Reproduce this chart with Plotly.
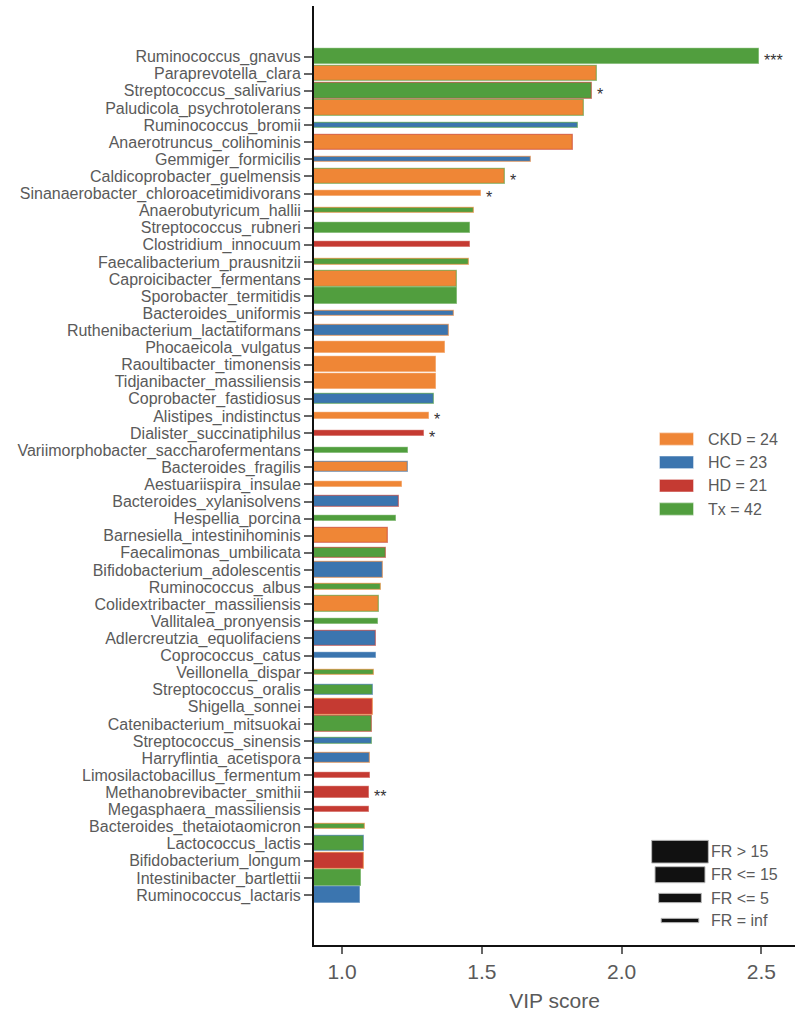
import plotly.graph_objects as go

species = [
    "Ruminococcus_gnavus", "Paraprevotella_clara", "Streptococcus_salivarius",
    "Paludicola_psychrotolerans", "Ruminococcus_bromii", "Anaerotruncus_colihominis",
    "Gemmiger_formicilis", "Caldicoprobacter_guelmensis",
    "Sinanaerobacter_chloroacetimidivorans", "Anaerobutyricum_hallii",
    "Streptococcus_rubneri", "Clostridium_innocuum", "Faecalibacterium_prausnitzii",
    "Caproicibacter_fermentans", "Sporobacter_termitidis", "Bacteroides_uniformis",
    "Ruthenibacterium_lactatiformans", "Phocaeicola_vulgatus", "Raoultibacter_timonensis",
    "Tidjanibacter_massiliensis", "Coprobacter_fastidiosus", "Alistipes_indistinctus",
    "Dialister_succinatiphilus", "Variimorphobacter_saccharofermentans",
    "Bacteroides_fragilis", "Aestuariispira_insulae", "Bacteroides_xylanisolvens",
    "Hespellia_porcina", "Barnesiella_intestinihominis", "Faecalimonas_umbilicata",
    "Bifidobacterium_adolescentis", "Ruminococcus_albus", "Colidextribacter_massiliensis",
    "Vallitalea_pronyensis", "Adlercreutzia_equolifaciens", "Coprococcus_catus",
    "Veillonella_dispar", "Streptococcus_oralis", "Shigella_sonnei",
    "Catenibacterium_mitsuokai", "Streptococcus_sinensis", "Harryflintia_acetispora",
    "Limosilactobacillus_fermentum", "Methanobrevibacter_smithii",
    "Megasphaera_massiliensis", "Bacteroides_thetaiotaomicron", "Lactococcus_lactis",
    "Bifidobacterium_longum", "Intestinibacter_bartlettii", "Ruminococcus_lactaris",
]

vip_score = [
    2.491, 1.911, 1.895, 1.865, 1.845, 1.825, 1.675, 1.584, 1.496, 1.471,
    1.459, 1.459, 1.456, 1.410, 1.410, 1.399, 1.381, 1.367, 1.338, 1.336,
    1.329, 1.312, 1.293, 1.237, 1.236, 1.213, 1.203, 1.193, 1.163, 1.156,
    1.146, 1.138, 1.131, 1.130, 1.122, 1.122, 1.115, 1.112, 1.111, 1.109,
    1.106, 1.102, 1.101, 1.097, 1.096, 1.081, 1.080, 1.078, 1.068, 1.064,
]

# group with highest abundance (fill) and second group (edge)
fill_group = [
    "Tx", "CKD", "Tx", "CKD", "HC", "CKD", "HC", "CKD", "CKD", "Tx",
    "Tx", "HD", "Tx", "CKD", "Tx", "HC", "HC", "CKD", "CKD", "CKD",
    "HC", "CKD", "HD", "Tx", "CKD", "CKD", "HC", "Tx", "CKD", "Tx",
    "HC", "Tx", "CKD", "Tx", "HC", "HC", "Tx", "Tx", "HD", "Tx",
    "HC", "HC", "HD", "HD", "HD", "Tx", "Tx", "HD", "Tx", "HC",
]
edge_group = [
    "Tx", "Tx", "HD", "Tx", "Tx", "HD", "CKD", "Tx", "CKD", "CKD",
    "Tx", "HD", "CKD", "Tx", "Tx", "CKD", "CKD", "CKD", "CKD", "CKD",
    "Tx", "CKD", "HD", "Tx", "HC", "CKD", "HD", "Tx", "HD", "HD",
    "CKD", "CKD", "Tx", "Tx", "HD", "HC", "CKD", "HC", "CKD", "HD",
    "Tx", "CKD", "HD", "HD", "HD", "CKD", "HC", "CKD", "Tx", "HC",
]
fr_class = [
    ">15", ">15", ">15", ">15", "<=5", ">15", "<=5", ">15", "<=5", "<=5",
    "<=15", "<=5", "<=5", ">15", ">15", "<=5", "<=15", "<=15", ">15", ">15",
    "<=15", "<=5", "<=5", "<=5", "<=15", "<=5", "<=15", "<=5", ">15", "<=15",
    ">15", "<=5", ">15", "<=5", ">15", "<=5", "<=5", "<=15", ">15", ">15",
    "<=5", "<=15", "<=5", "<=15", "<=5", "<=5", ">15", ">15", ">15", ">15",
]
significance = [
    "***", "", "*", "", "", "", "", "*", "*", "",
    "", "", "", "", "", "", "", "", "", "",
    "", "*", "*", "", "", "", "", "", "", "",
    "", "", "", "", "", "", "", "", "", "",
    "", "", "", "**", "", "", "", "", "", "",
]

group_labels = ["CKD = 24", "HC = 23", "HD = 21", "Tx = 42"]
group_keys = ["CKD", "HC", "HD", "Tx"]
fr_labels = ["FR > 15", "FR <= 15", "FR <= 5", "FR = inf"]

# ---- styles ----
COL = {"CKD": (239, 134, 54), "HC": (59, 117, 175), "HD": (197, 58, 50), "Tx": (81, 158, 62)}
WIDTH = {">15": 0.9, "<=15": 0.6, "<=5": 0.3, "inf": 0.1}
FONT = "Liberation Sans, Arial, sans-serif"
TXT = "#5a5a5a"


def solid(g):
    r, gg, b = COL[g]
    return f"rgb({r},{gg},{b})"


def light(g, a=0.55):
    r, gg, b = COL[g]
    return f"rgba({r},{gg},{b},{a})"


ypos = list(range(len(species)))

fig = go.Figure()
fig.add_trace(go.Bar(
    x=vip_score, y=ypos, orientation="h",
    width=[WIDTH[f] for f in fr_class],
    marker=dict(color=[solid(g) for g in fill_group],
                line=dict(color=[light(g) for g in edge_group], width=1.3)),
    showlegend=False, hoverinfo="x+text", text=species, textposition="none",
))

annotations = []
for yi, (v, s) in enumerate(zip(vip_score, significance)):
    if s:
        annotations.append(dict(x=v, y=yi, xref="x", yref="y", text=s, showarrow=False,
                                xanchor="left", yanchor="middle", xshift=3, yshift=-4,
                                font=dict(family=FONT, size=16, color="#333333")))

# pixel helpers for legend placement
L, R, T, B = 314, 795, 6, 945


def px(xp):
    return (xp - L) / (R - L)


def py(yp):
    return (B - yp) / (B - T)


shapes = []
# group legend
grp_rows = [439, 462.3, 485.7, 509]
for key, lab, yc in zip(group_keys, group_labels, grp_rows):
    shapes.append(dict(type="rect", xref="paper", yref="paper",
                       x0=px(660), x1=px(693), y0=py(yc + 5.8), y1=py(yc - 5.8),
                       fillcolor=solid(key), line=dict(color=light(key, 0.5), width=1.2)))
    annotations.append(dict(x=px(706), y=py(yc), xref="paper", yref="paper", text=lab,
                            showarrow=False, xanchor="left", yanchor="middle",
                            font=dict(family=FONT, size=16, color=TXT)))

# FR legend
fr_rows = [851.7, 874.7, 898, 920.5]
fr_w = [56.7, 50, 42.7, 37.7]
fr_h = [22.7, 16, 9.3, 4.3]
for lab, yc, w, h in zip(fr_labels, fr_rows, fr_w, fr_h):
    shapes.append(dict(type="rect", xref="paper", yref="paper",
                       x0=px(680 - w / 2), x1=px(680 + w / 2), y0=py(yc + h / 2), y1=py(yc - h / 2),
                       fillcolor="#111111", line=dict(color="#bbbbbb", width=1)))
    annotations.append(dict(x=px(709), y=py(yc), xref="paper", yref="paper", text=lab,
                            showarrow=False, xanchor="left", yanchor="middle",
                            font=dict(family=FONT, size=16, color=TXT)))

fig.update_layout(
    width=795, height=1015,
    margin=dict(l=L, r=795 - R, t=T, b=1015 - B, pad=0),
    paper_bgcolor="white", plot_bgcolor="white",
    bargap=0,
    shapes=shapes, annotations=annotations,
    font=dict(family=FONT, color=TXT),
    xaxis=dict(range=[0.9, 2.62], tickvals=[1.0, 1.5, 2.0, 2.5],
               ticktext=["1.0", "1.5", "2.0", "2.5"],
               ticks="outside", ticklen=7, tickwidth=1.5, tickcolor="#666666",
               showline=True, linecolor="#111111", linewidth=2, mirror=False,
               showgrid=False, zeroline=False,
               tickfont=dict(family=FONT, size=21, color=TXT),
               title=dict(text="VIP score", font=dict(family=FONT, size=21, color=TXT), standoff=11)),
    yaxis=dict(range=[51.92, -2.96], tickvals=ypos, ticktext=species,
               ticks="outside", ticklen=8, tickwidth=1.5, tickcolor="#666666",
               showline=True, linecolor="#111111", linewidth=2,
               showgrid=False, zeroline=False,
               tickfont=dict(family=FONT, size=16, color=TXT)),
)

fig.write_html("out.html", config={"displayModeBar": False},
               post_script="document.body.style.margin='0';document.body.style.padding='0';")
